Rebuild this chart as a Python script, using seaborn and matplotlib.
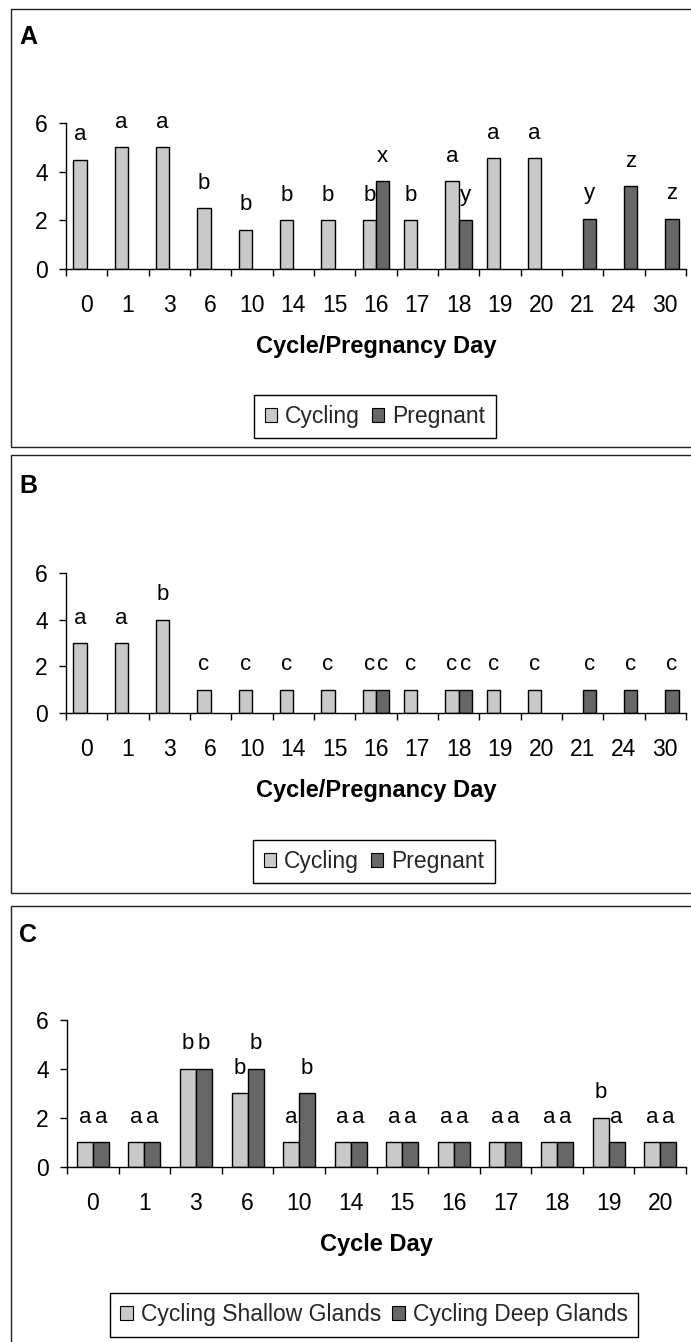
import numpy as np
import pandas as pd
import matplotlib
matplotlib.use("Agg")
import matplotlib.pyplot as plt
import seaborn as sns
from matplotlib.patches import Patch, Rectangle

nan = np.nan

# ---------------- data ----------------
days_AB = ["0", "1", "3", "6", "10", "14", "15", "16", "17", "18", "19", "20", "21", "24", "30"]

cycling_A = [4.5, 5.0, 5.0, 2.5, 1.6, 2.0, 2.0, 2.0, 2.0, 3.6, 4.55, 4.55, nan, nan, nan]
pregnant_A = [nan, nan, nan, nan, nan, nan, nan, 3.6, nan, 2.0, nan, nan, 2.05, 3.4, 2.05]
letters_cyc_A = ["a", "a", "a", "b", "b", "b", "b", "b", "b", "a", "a", "a", "", "", ""]
letters_preg_A = ["", "", "", "", "", "", "", "x", "", "y", "", "", "y", "z", "z"]

cycling_B = [3.0, 3.0, 4.0, 1.0, 1.0, 1.0, 1.0, 1.0, 1.0, 1.0, 1.0, 1.0, nan, nan, nan]
pregnant_B = [nan, nan, nan, nan, nan, nan, nan, 1.0, nan, 1.0, nan, nan, 1.0, 1.0, 1.0]
letters_cyc_B = ["a", "a", "b", "c", "c", "c", "c", "c", "c", "c", "c", "c", "", "", ""]
letters_preg_B = ["", "", "", "", "", "", "", "c", "", "c", "", "", "c", "c", "c"]

days_C = ["0", "1", "3", "6", "10", "14", "15", "16", "17", "18", "19", "20"]
shallow_C = [1, 1, 4, 3, 1, 1, 1, 1, 1, 1, 2, 1]
deep_C = [1, 1, 4, 4, 3, 1, 1, 1, 1, 1, 1, 1]
letters_shallow_C = ["a", "a", "b", "b", "a", "a", "a", "a", "a", "a", "b", "a"]
letters_deep_C = ["a", "a", "b", "b", "b", "a", "a", "a", "a", "a", "a", "a"]

names_AB = ["Cycling", "Pregnant"]
names_C = ["Cycling Shallow Glands", "Cycling Deep Glands"]
colors = ["#c9c9c9", "#676767"]

# ---------------- figure ----------------
sns.set_theme(style="white")
plt.rcParams["font.family"] = ["Liberation Sans", "DejaVu Sans"]

W, H = 691, 1342
fig = plt.figure(figsize=(W / 100, H / 100), dpi=100)


def fx(px):
    return px / W


def fy(py):
    return 1 - py / H


def panel(days, s1, s2, l1, l2, names, box, width, xlabel, leg_c, letter, letter_c, border):
    df = pd.DataFrame({
        "day": list(days) * 2,
        "value": list(s1) + list(s2),
        "group": [names[0]] * len(days) + [names[1]] * len(days),
    }).dropna()
    left, top, right, bottom = box
    ax = fig.add_axes([fx(left), fy(bottom), (right - left) / W, (bottom - top) / H])
    sns.barplot(data=df, x="day", y="value", hue="group", order=days, hue_order=names,
                palette=colors, width=width, edgecolor="black", linewidth=1,
                saturation=1, errorbar=None, legend=False, ax=ax)
    n = len(days)
    ax.set_xlim(-0.5, n - 0.5)
    ax.set_ylim(0, 6)
    ax.set_yticks([0, 2, 4, 6])
    ax.set_xticks(np.arange(-0.5, n, 1.0), minor=True)
    for s in ["top", "right"]:
        ax.spines[s].set_visible(False)
    for s in ["left", "bottom"]:
        ax.spines[s].set_color("black")
        ax.spines[s].set_linewidth(1)
    ax.tick_params(axis="y", left=True, length=5, width=1, direction="out", pad=8,
                   labelsize=16.5, colors="black")
    ax.tick_params(axis="x", which="major", bottom=True, length=0, pad=18, labelsize=16.5,
                   colors="black")
    ax.tick_params(axis="x", which="minor", bottom=True, length=5, width=1, direction="out",
                   colors="black")
    ax.set_xlabel(xlabel, fontsize=17, fontweight="bold", labelpad=13, color="black")
    ax.set_ylabel("")
    ax.set_facecolor("none")

    off = width / 4
    for i in range(n):
        for vals, labs, dx in ((s1, l1, -off), (s2, l2, off)):
            if labs[i] and not np.isnan(vals[i]):
                ax.annotate(labs[i], (i + dx, vals[i]), xytext=(0, 14),
                            textcoords="offset points", ha="center", va="baseline",
                            fontsize=16, color="black", annotation_clip=False)

    handles = [Patch(facecolor=c, edgecolor="black", linewidth=0.8) for c in colors]
    leg = fig.legend(handles, names, loc="center", bbox_to_anchor=(fx(leg_c[0]), fy(leg_c[1])),
                     ncol=2, frameon=True, fancybox=False, edgecolor="black", fontsize=16.5,
                     handlelength=0.55, handleheight=0.55, handletextpad=0.35,
                     columnspacing=0.5, borderpad=0.45, framealpha=1)
    leg.get_frame().set_linewidth(1)

    fig.text(fx(letter_c[0]), fy(letter_c[1]), letter, fontsize=18, fontweight="bold",
             ha="center", va="center", color="black")

    bt, bb = border
    fig.add_artist(Rectangle((fx(11), fy(bb)), (W + 20 - 11) / W, (bb - bt) / H,
                             transform=fig.transFigure, fill=False, edgecolor="#222222",
                             linewidth=1, clip_on=False))
    return ax


panel(days_AB, cycling_A, pregnant_A, letters_cyc_A, letters_preg_A, names_AB,
      (66, 123.3, 686, 268.5), 0.65, "Cycle/Pregnancy Day", (375, 416.5), "A", (28, 37), (9, 447))
panel(days_AB, cycling_B, pregnant_B, letters_cyc_B, letters_preg_B, names_AB,
      (66, 572.7, 686, 713.3), 0.65, "Cycle/Pregnancy Day", (374, 861.5), "B", (28, 486), (455, 893))
panel(days_C, shallow_C, deep_C, letters_shallow_C, letters_deep_C, names_C,
      (67, 1020, 686, 1166.7), 0.62, "Cycle Day", (374, 1315), "C", (28, 935), (906, 1346))

fig.savefig("out.png", dpi=100)
